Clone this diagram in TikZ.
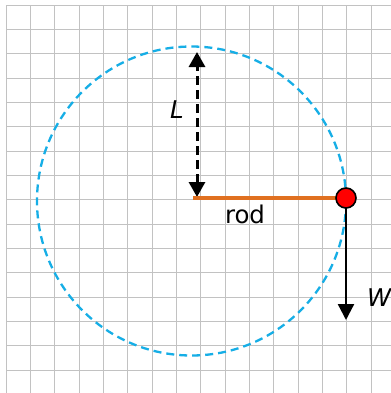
\documentclass[tikz,border=0pt]{standalone}
\usepackage{fontspec}
\setmainfont{DejaVu Sans}
\usetikzlibrary{arrows.meta}
\definecolor{orbitblue}{RGB}{22,174,230}
\definecolor{rodorange}{RGB}{224,112,32}

\begin{document}
\begin{tikzpicture}[
  x=1bp, y=-1bp,
  font=\fontsize{24.5}{28}\selectfont,
  gridline/.style={draw=black!24, line width=1bp},
  orbit/.style={draw=orbitblue, line width=2.3bp, dash pattern=on 8bp off 5bp},
  rodline/.style={draw=rodorange, line width=4bp},
  massball/.style={circle, draw=black, fill=red, line width=1.6bp, minimum size=20bp, inner sep=0pt},
  weight/.style={draw=black, line width=2.3bp, -{Triangle[width=16bp,length=16bp]}},
  lenarrow/.style={draw=black, line width=3bp, dash pattern=on 9bp off 5bp,
    {Triangle[width=16bp,length=15bp]}-{Triangle[width=16bp,length=15bp]}}
]
% Grid: first line at (6,5), spacing \gap (pixel units, y downwards)
\def\gap{24.35}
\useasboundingbox (0,0) rectangle (391,393);
\fill[white] (0,0) rectangle (391,393);

% --- Grid ---
\foreach \k in {0,...,15} {
  \draw[gridline] (6+\k*\gap,5) -- (6+\k*\gap,393);
  \draw[gridline] (6,5+\k*\gap) -- (391,5+\k*\gap);
}

% --- Path of the mass ---
\draw[orbit] (191.5,201) circle[radius=154.5];

% --- Rod, length and weight ---
\coordinate (pivot) at (193,198);
\coordinate (massc) at (346,198);
\coordinate (Ltop) at (197,52);
\coordinate (Lbot) at (197,197);
\coordinate (Wtip) at (346,320);

\draw[lenarrow] (Lbot) -- (Ltop);
\draw[rodline] (pivot) -- (massc);
\draw[weight] (massc) -- (Wtip);
\node[massball] (mass) at (massc) {};

% --- Labels ---
\node (Llabel) at (177,110) {\textit{L}};
\node (rodlabel) at (245,214) {rod};
\node[anchor=west, inner sep=0pt] (Wlabel) at (367,298) {\textit{W}};

\end{tikzpicture}
\end{document}
